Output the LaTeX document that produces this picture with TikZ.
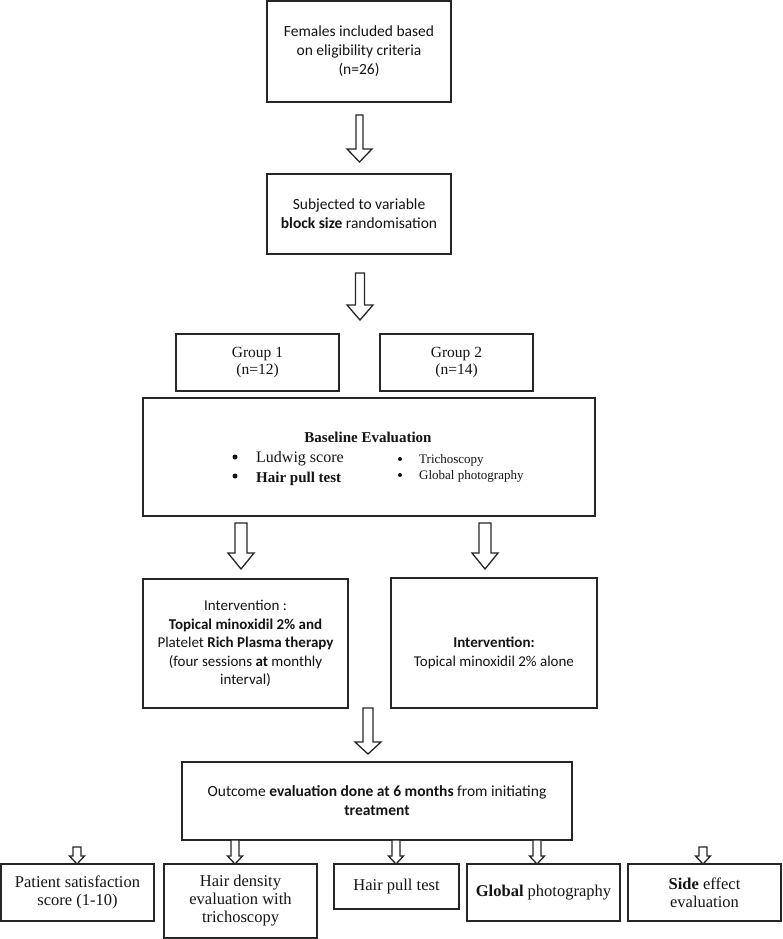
\documentclass[tikz,border=0pt]{standalone}
\usepackage{fontspec}
\newfontfamily\calfont{Carlito}
\newfontfamily\timfont{Liberation Serif}
\definecolor{ink}{HTML}{141414}
\definecolor{edge}{HTML}{262626}
% block arrow: x, top y, head-start y, tip y, shaft half width, head half width
\newcommand\blkarrow[6]{\draw[blk] (#1-#5,#2) -- (#1+#5,#2) -- (#1+#5,#3) -- (#1+#6,#3) -- (#1,#4) -- (#1-#6,#3) -- (#1-#5,#3) -- cycle;}
\begin{document}
\begin{tikzpicture}[x=1pt,y=-1pt,
  box/.style={draw=edge, line width=1.3pt, inner sep=0pt, text=ink, align=center},
  cal/.style={font=\calfont\fontsize{15.5}{19}\selectfont, text=ink, align=center},
  calsm/.style={font=\calfont\fontsize{15}{18.5}\selectfont, text=ink, align=center},
  tim/.style={font=\timfont\fontsize{16.5}{18}\selectfont, text=ink, align=center},
  timg/.style={font=\timfont\fontsize{15.5}{17}\selectfont, text=ink, align=center},
  bl/.style={text=ink, inner sep=0pt, anchor=base west},
  dot/.style={circle, fill=ink, inner sep=0pt, minimum size=#1},
  blk/.style={draw=edge, line width=1.3pt, fill=white, line join=miter}]
\useasboundingbox (0,0) rectangle (782,939);
\fill[white] (0,0) rectangle (782,939);

% top boxes
\node[box, cal, minimum width=184pt, minimum height=101pt] (b1) at (359,51.5)
  {Females included based\\on eligibility criteria\\(n=26)};
\node[box, cal, minimum width=184pt, minimum height=80pt] (b2) at (359,214)
  {Subjected to variable\\\textbf{block size} randomisation};

% groups
\node[box, timg, minimum width=163pt, minimum height=57pt] (g1) at (257.5,362.5) {Group 1\\(n=12)};
\node[box, timg, minimum width=153pt, minimum height=57pt] (g2) at (456.5,362.5) {Group 2\\(n=14)};

% baseline
\node[box, minimum width=452pt, minimum height=118pt] (base) at (369,457) {};
\node[font=\timfont\bfseries\fontsize{15}{17}\selectfont, text=ink, inner sep=0pt, anchor=base] (bt) at (368,442) {Baseline Evaluation};
\node[dot=5pt] (d1) at (235,457) {};
\node[bl, font=\timfont\fontsize{16}{17}\selectfont] (l1) at (256,462) {Ludwig score};
\node[dot=5pt] (d2) at (235,476) {};
\node[bl, font=\timfont\bfseries\fontsize{15}{17}\selectfont] (l2) at (256,482) {Hair pull test};
\node[dot=4pt] (d3) at (400,459) {};
\node[bl, font=\timfont\fontsize{13}{15}\selectfont] (r1) at (419,463) {Trichoscopy};
\node[dot=4pt] (d4) at (400,475) {};
\node[bl, font=\timfont\fontsize{13}{15}\selectfont] (r2) at (419,479) {Global photography};

% interventions
\node[box, calsm, minimum width=205pt, minimum height=129pt] (i1) at (245.5,643.5)
  {Intervention :\\\textbf{Topical minoxidil 2\% and}\\Platelet \textbf{Rich Plasma therapy}\\(four sessions \textbf{at} monthly\\interval)};
\node[box, minimum width=206pt, minimum height=130pt] (i2) at (494,643) {};
\node[calsm] (i2t) at (494,653) {\textbf{Intervention:}\\Topical minoxidil 2\% alone};

% outcome
\node[box, cal, minimum width=390pt, minimum height=78pt] (out) at (377,801)
  {Outcome \textbf{evaluation done at 6 months} from initiating\\\textbf{treatment}};

% bottom boxes
\node[box, tim, minimum width=153pt, minimum height=57pt] (p1) at (77.5,892.5) {Patient satisfaction\\score (1-10)};
\node[box, tim, minimum width=153pt, minimum height=74pt] (p2) at (240.5,901) {Hair density\\evaluation with\\trichoscopy};
\node[box, tim, minimum width=125pt, minimum height=45pt] (p3) at (396.5,886.5) {Hair pull test};
\node[box, tim, minimum width=153pt, minimum height=57pt] (p4) at (543.5,892.5) {\textbf{Global} photography};
\node[box, tim, minimum width=153pt, minimum height=57pt] (p5) at (704.5,892.5) {\textbf{Side} effect\\evaluation};

% block arrows
\blkarrow{359.5}{115}{149}{162}{3.5}{12.5}
\blkarrow{360}{273}{305}{320}{4.5}{13}
\blkarrow{241}{523}{553}{569}{6}{13}
\blkarrow{485}{523}{553}{569}{6}{13}
\blkarrow{368}{708}{742}{754}{5}{13}
\blkarrow{77}{847}{856}{864}{4}{7.5}
\blkarrow{235}{840}{856}{864}{4}{7.5}
\blkarrow{396}{840}{856}{864}{4}{7.5}
\blkarrow{537}{840}{856}{864}{4}{7.5}
\blkarrow{703}{847}{856}{864}{4}{7.5}
\end{tikzpicture}
\end{document}
